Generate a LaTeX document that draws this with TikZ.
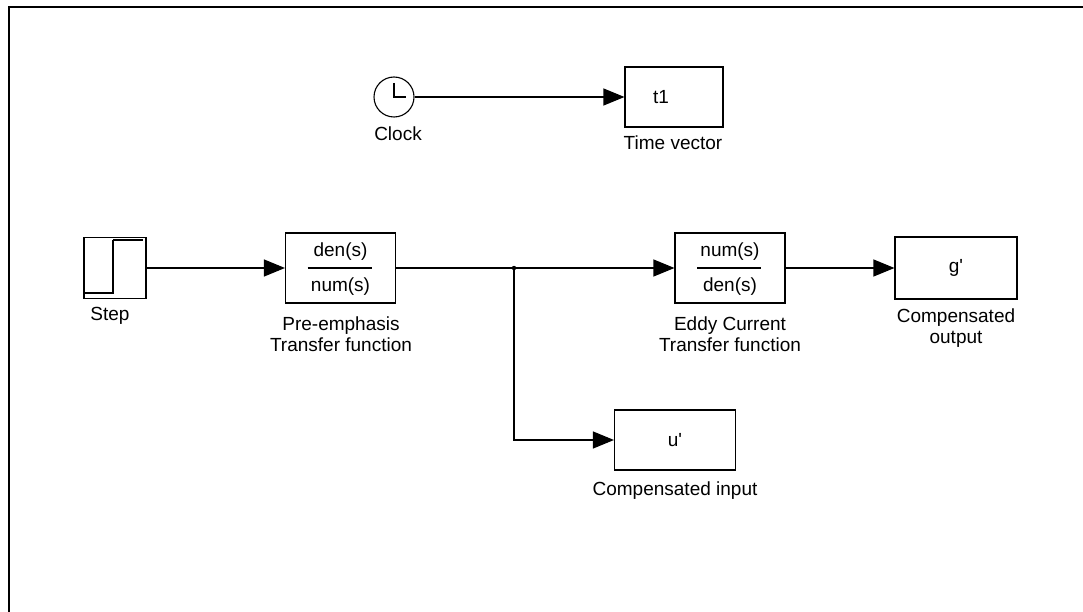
\documentclass[tikz,border=0pt]{standalone}
\usepackage{fontspec}
\setmainfont{Liberation Sans}
\newfontfamily\rawsans{Liberation Sans}
\newcommand{\sq}{{\rawsans\symbol{39}}}
\usetikzlibrary{arrows.meta,calc}
\begin{document}
\begin{tikzpicture}[x=1pt,y=-1pt,
  line width=1.1pt,
  every node/.style={font=\fontsize{19}{21}\selectfont},
  blk/.style={draw,rectangle,inner sep=0pt,line width=1.1pt},
  lbl/.style={align=center,inner sep=0pt},
  sig/.style={-{Triangle[length=21pt,width=17pt]}}
]
\useasboundingbox (0,0) rectangle (1083,612);
% frame
\draw[line width=1.5pt] (9,612) -- (9,7) -- (1083,7);
% clock
\node[draw,circle,minimum size=40pt,inner sep=0pt,line width=1.1pt] (clk) at (394,97) {};
\draw (394,83) -- (394,97) -- (406,97);
\node[lbl] (clkl) at (398,134) {Clock};
% time vector
\node[blk,minimum width=98pt,minimum height=60pt] (tv) at (674,97) {};
\node[inner sep=0pt] (tvt) at (661,97) {t1};
\node[lbl] (tvl) at (673,143) {Time vector};
\draw[sig] (clk.east) -- (tv.west);
% step
\node[blk,minimum width=62pt,minimum height=61pt] (step) at (115,268) {};
\draw (84,293) -- (113,293) -- (113,240);
\draw[line width=2.2pt] (113,240) -- (143,240);
\node[lbl] (stepl) at (110,316) {Step};
% pre-emphasis
\node[blk,minimum width=110pt,minimum height=70pt] (pre) at (340.5,268) {};
\node[inner sep=0pt] (pren) at ($(pre.center)+(0,-16)$) {den(s)};
\node[inner sep=0pt] (pred) at ($(pre.center)+(0,19)$) {num(s)};
\draw ($(pre.center)+(-33,0)$) -- ($(pre.center)+(31,0)$);
\node[lbl] (prel) at (341,334) {Pre-emphasis\\Transfer function};
% eddy current
\node[blk,minimum width=110pt,minimum height=70pt] (eddy) at (730,268) {};
\node[inner sep=0pt] (eddyn) at ($(eddy.center)+(0,-16)$) {num(s)};
\node[inner sep=0pt] (eddyd) at ($(eddy.center)+(0,19)$) {den(s)};
\draw ($(eddy.center)+(-33,0)$) -- ($(eddy.center)+(31,0)$);
\node[lbl] (eddyl) at (730,334) {Eddy Current\\Transfer function};
% compensated output
\node[blk,minimum width=122pt,minimum height=62pt] (gout) at (956,268) {g\sq};
\node[lbl] (goutl) at (956,328) {Compensated\\output};
% compensated input
\node[blk,minimum width=121pt,minimum height=60pt] (uin) at (675,440) {u\sq};
\node[lbl] (uinl) at (675,491) {Compensated input};
% connections
\coordinate (br) at (514,268);
\draw[sig] (step.east) -- (pre.west);
\draw[sig] (pre.east) -- (eddy.west);
\draw[sig] (br) |- (uin.west);
\fill (br) circle (2.2pt);
\draw[sig] (eddy.east) -- (gout.west);
\end{tikzpicture}
\end{document}
